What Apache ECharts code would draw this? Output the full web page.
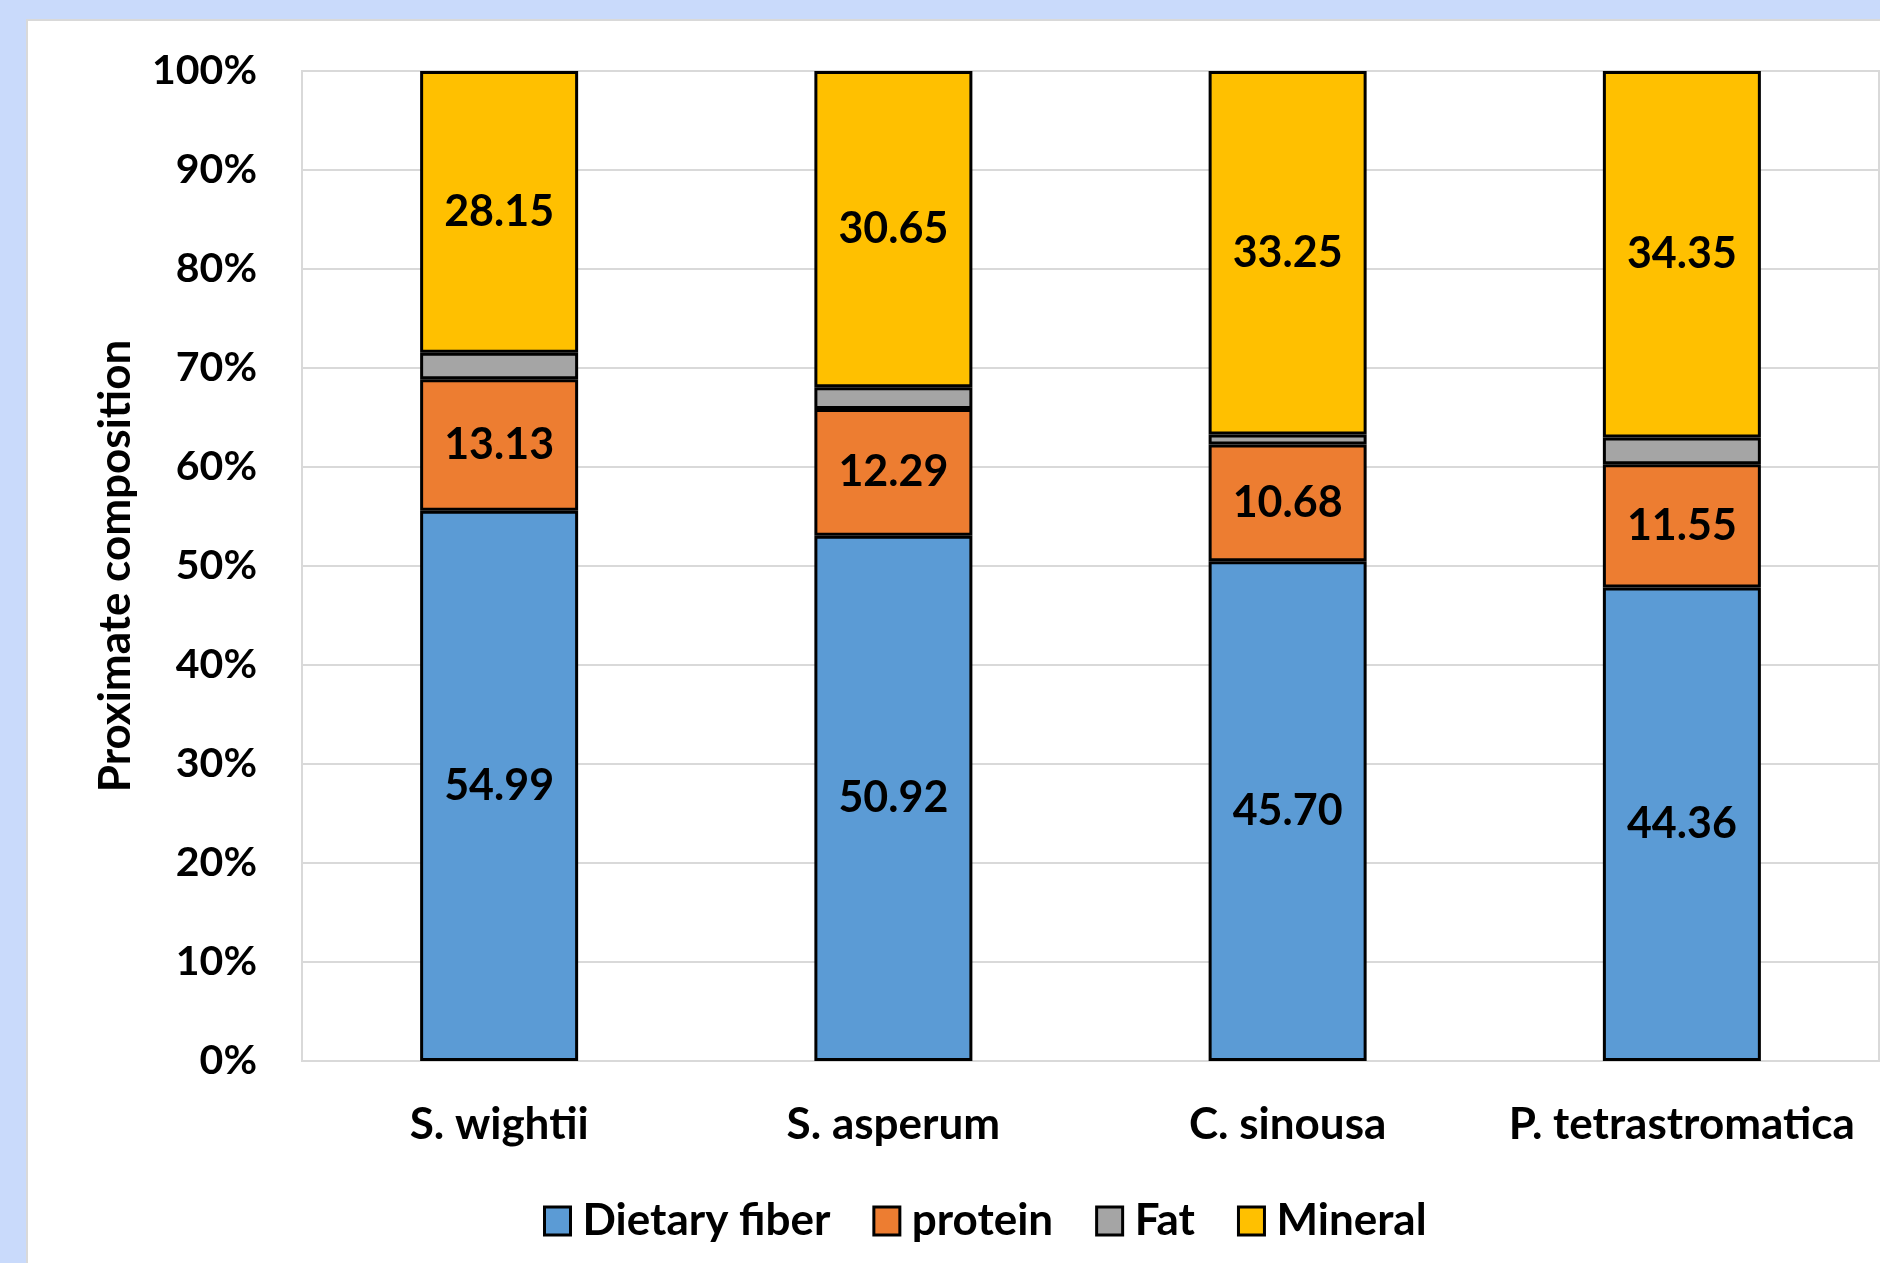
<!DOCTYPE html>
<html>
<head>
<meta charset="utf-8">
<title>Proximate composition</title>
<script src="https://cdn.jsdelivr.net/npm/echarts@6/dist/echarts.min.js"></script>
<style>
  html, body { margin: 0; padding: 0; background: #c9dafb; }
  #chart { width: 1880px; height: 1263px; }
</style>
</head>
<body>
<div id="chart"></div>
<script>
// Seaweed species
const categories = ['S. wightii', 'S. asperum', 'C. sinousa', 'P. tetrastromatica'];

// Component amounts (g/100 g dry weight)
const dietaryFiber = [54.99, 50.92, 45.70, 44.36];
const protein      = [13.13, 12.29, 10.68, 11.55];
const fat          = [2.66, 2.10, 0.90, 2.50];
const mineral      = [28.15, 30.65, 33.25, 34.35];

const yTicks = [0, 10, 20, 30, 40, 50, 60, 70, 80, 90, 100];

const components = [
  { name: 'Dietary fiber', values: dietaryFiber, color: '#5b9bd5', label: true },
  { name: 'protein',       values: protein,      color: '#ed7d31', label: true },
  { name: 'Fat',           values: fat,          color: '#a5a5a5', label: false },
  { name: 'Mineral',       values: mineral,      color: '#ffc000', label: true }
];

// Column totals for the 100% stacking
const totals = categories.map((_, i) =>
  components.reduce((s, c) => s + c.values[i], 0));

const FONT = 'Lato';
const textStyle = { fontFamily: FONT, fontWeight: 'bold', color: '#000' };

const chart = echarts.init(document.getElementById('chart'), null, { renderer: 'canvas' });

chart.setOption({
  backgroundColor: '#c9dafb',
  animation: false,
  graphic: [{
    type: 'rect',
    z: -10,
    shape: { x: 27, y: 20, width: 1880, height: 1300 },
    style: { fill: '#ffffff', stroke: '#d9d9d9', lineWidth: 2 }
  }],
  grid: {
    left: 302, top: 71, right: 1, bottom: 202,
    show: true, borderColor: '#d9d9d9', borderWidth: 2
  },
  legend: {
    left: 538, top: 1194,
    itemWidth: 26, itemHeight: 28, itemGap: 42,
    icon: 'rect',
    textStyle: Object.assign({ fontSize: 44, padding: [0, 0, 0, 7] }, textStyle),
    data: components.map(c => c.name),
    itemStyle: { borderColor: '#000', borderWidth: 3 }
  },
  xAxis: {
    type: 'category',
    data: categories,
    axisLine: { show: true, lineStyle: { color: '#d9d9d9', width: 2 } },
    axisTick: { show: false },
    axisLabel: Object.assign({ fontSize: 44, margin: 42, interval: 0 }, textStyle)
  },
  yAxis: {
    type: 'value',
    min: 0, max: 100, interval: 10,
    name: 'Proximate composition',
    nameLocation: 'middle',
    nameGap: 164,
    nameRotate: 90,
    nameTextStyle: Object.assign({ fontSize: 44 }, textStyle),
    axisLine: { show: true, lineStyle: { color: '#d9d9d9', width: 2 } },
    axisTick: { show: false },
    splitLine: { lineStyle: { color: '#d9d9d9', width: 2 } },
    axisLabel: Object.assign({
      fontSize: 41, margin: 45,
      formatter: v => yTicks.includes(v) ? v + '%' : ''
    }, textStyle)
  },
  series: components.map(c => ({
    name: c.name,
    type: 'bar',
    stack: 'total',
    barWidth: 158,
    itemStyle: { color: c.color, borderColor: '#000', borderWidth: 3 },
    label: {
      show: c.label,
      position: 'inside',
      fontFamily: FONT, fontWeight: 'bold', fontSize: 43, color: '#000',
      formatter: p => c.values[p.dataIndex].toFixed(2)
    },
    data: c.values.map((v, i) => v / totals[i] * 100)
  }))
});
</script>
</body>
</html>
